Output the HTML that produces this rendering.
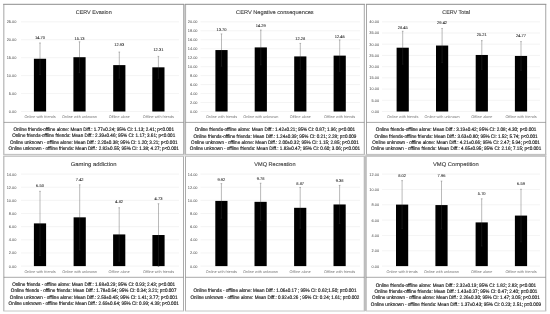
<!DOCTYPE html>
<html><head><meta charset="utf-8"><title>Figure</title>
<style>html,body{margin:0;padding:0;background:#fff}svg{display:block}text{text-rendering:geometricPrecision}</style></head>
<body>
<svg width="550" height="314" viewBox="0 0 550 314" font-family='"Liberation Sans", sans-serif'>
<rect width="550" height="314" fill="#fff"/>
<rect x="3.2" y="154.4" width="361.6" height="1.9" fill="#e6e6e6"/>
<rect x="365.3" y="154.4" width="181" height="1.9" fill="#c8c8c8"/>
<rect x="183.6" y="4.3" width="1.9" height="150.1" fill="#d0d0d0"/>
<rect x="364.4" y="156.3" width="1.7" height="154.7" fill="#c4c4c4"/>
<rect x="3.8" y="4.3" width="179.80" height="150.10" fill="#fff"/>
<path d="M3.8 4.3V154.4" stroke="#b4b4b4" stroke-width="1.2" fill="none"/>
<path d="M183.6 4.3V154.4" stroke="#b4b4b4" stroke-width="1.2" fill="none"/>
<path d="M3.20 4.3H184.20" stroke="#8c8c8c" stroke-width="1" fill="none"/>
<path d="M3.20 154.4H184.20" stroke="#bdbdbd" stroke-width="1" fill="none"/>
<path d="M3.8 122.4H183.6" stroke="#6e6e6e" stroke-width="0.6" fill="none"/>
<text x="93.70" y="14.10" font-size="5.4" fill="#383838" stroke="#383838" stroke-width="0.1" text-anchor="middle" textLength="36.0" lengthAdjust="spacingAndGlyphs">CERV Evasion</text>
<line x1="21.0" x2="179.0" y1="111.50" y2="111.50" stroke="#e6e6e6" stroke-width="0.45"/>
<text x="16.40" y="112.90" font-size="3.9" fill="#444" text-anchor="end">0.00</text>
<line x1="21.0" x2="179.0" y1="93.56" y2="93.56" stroke="#e6e6e6" stroke-width="0.45"/>
<text x="16.40" y="94.96" font-size="3.9" fill="#444" text-anchor="end">5.00</text>
<line x1="21.0" x2="179.0" y1="75.62" y2="75.62" stroke="#e6e6e6" stroke-width="0.45"/>
<text x="16.40" y="77.02" font-size="3.9" fill="#444" text-anchor="end">10.00</text>
<line x1="21.0" x2="179.0" y1="57.68" y2="57.68" stroke="#e6e6e6" stroke-width="0.45"/>
<text x="16.40" y="59.08" font-size="3.9" fill="#444" text-anchor="end">15.00</text>
<line x1="21.0" x2="179.0" y1="39.74" y2="39.74" stroke="#e6e6e6" stroke-width="0.45"/>
<text x="16.40" y="41.14" font-size="3.9" fill="#444" text-anchor="end">20.00</text>
<line x1="21.0" x2="179.0" y1="21.80" y2="21.80" stroke="#e6e6e6" stroke-width="0.45"/>
<text x="16.40" y="23.20" font-size="3.9" fill="#444" text-anchor="end">25.00</text>
<rect x="33.90" y="58.76" width="12.2" height="52.74" fill="#000"/>
<path d="M40.00 42.97V58.76M39.20 42.97H40.80" stroke="#757575" stroke-width="0.5" fill="none"/>
<path d="M40.00 58.76V74.54M39.20 74.54H40.80" stroke="#2c2c2c" stroke-width="0.45" fill="none"/>
<text x="40.00" y="39.05" font-size="4" fill="#2a2a2a" stroke="#2a2a2a" stroke-width="0.08" text-anchor="middle">14.70</text>
<text x="40.00" y="118.10" font-size="3.8" fill="#777" text-anchor="middle">Online with friends</text>
<rect x="73.40" y="57.21" width="12.2" height="54.29" fill="#000"/>
<path d="M79.50 41.79V57.21M78.70 41.79H80.30" stroke="#757575" stroke-width="0.5" fill="none"/>
<path d="M79.50 57.21V72.64M78.70 72.64H80.30" stroke="#2c2c2c" stroke-width="0.45" fill="none"/>
<text x="79.50" y="39.95" font-size="4" fill="#2a2a2a" stroke="#2a2a2a" stroke-width="0.08" text-anchor="middle">15.13</text>
<text x="79.50" y="118.10" font-size="3.8" fill="#777" text-anchor="middle">Online with unknown</text>
<rect x="113.20" y="65.11" width="12.2" height="46.39" fill="#000"/>
<path d="M119.30 52.05V65.11M118.50 52.05H120.10" stroke="#757575" stroke-width="0.5" fill="none"/>
<path d="M119.30 65.11V78.17M118.50 78.17H120.10" stroke="#2c2c2c" stroke-width="0.45" fill="none"/>
<text x="119.30" y="45.75" font-size="4" fill="#2a2a2a" stroke="#2a2a2a" stroke-width="0.08" text-anchor="middle">12.93</text>
<text x="119.30" y="118.10" font-size="3.8" fill="#777" text-anchor="middle">Offline alone</text>
<rect x="152.30" y="67.33" width="12.2" height="44.17" fill="#000"/>
<path d="M158.40 56.39V67.33M157.60 56.39H159.20" stroke="#757575" stroke-width="0.5" fill="none"/>
<path d="M158.40 67.33V78.28M157.60 78.28H159.20" stroke="#2c2c2c" stroke-width="0.45" fill="none"/>
<text x="158.40" y="50.55" font-size="4" fill="#2a2a2a" stroke="#2a2a2a" stroke-width="0.08" text-anchor="middle">12.31</text>
<text x="158.40" y="118.10" font-size="3.8" fill="#777" text-anchor="middle">Offline with friends</text>
<text transform="translate(93.70 131.05) scale(0.9 1)" font-size="5.1" fill="#111" stroke="#111" stroke-width="0.14" text-anchor="middle">Online friends-offline alone: Mean Diff.: 1.77±0.24; 95% CI: 1.13; 2.41; p&lt;0.001</text>
<text transform="translate(93.70 137.15) scale(0.9 1)" font-size="5.1" fill="#111" stroke="#111" stroke-width="0.14" text-anchor="middle">Online friends-offline friends: Mean Diff.: 2.39±0.46; 95% CI: 1.17; 3.61; p&lt;0.001</text>
<text transform="translate(93.70 143.55) scale(0.9 1)" font-size="5.1" fill="#111" stroke="#111" stroke-width="0.14" text-anchor="middle">Online unknown - offline alone: Mean Diff.: 2.20±0.38; 95% CI: 1.20; 3.21; p&lt;0.001</text>
<text transform="translate(93.70 149.85) scale(0.9 1)" font-size="5.1" fill="#111" stroke="#111" stroke-width="0.14" text-anchor="middle">Online unknown - offline friends: Mean Diff.: 2.82±0.55; 95% CI: 1.38; 4.27; p&lt;0.001</text>
<rect x="185.5" y="4.3" width="178.80" height="150.10" fill="#fff"/>
<path d="M185.5 4.3V154.4" stroke="#b4b4b4" stroke-width="1.2" fill="none"/>
<path d="M364.3 4.3V154.4" stroke="#8a8a8a" stroke-width="0.75" fill="none"/>
<path d="M184.90 4.3H364.90" stroke="#8c8c8c" stroke-width="1" fill="none"/>
<path d="M184.90 154.4H364.90" stroke="#bdbdbd" stroke-width="1" fill="none"/>
<path d="M185.5 122.4H364.3" stroke="#6e6e6e" stroke-width="0.6" fill="none"/>
<text x="274.90" y="14.10" font-size="5.4" fill="#383838" stroke="#383838" stroke-width="0.1" text-anchor="middle" textLength="77.6" lengthAdjust="spacingAndGlyphs">CERV Negative consequences</text>
<line x1="200.5" x2="360.0" y1="111.50" y2="111.50" stroke="#e6e6e6" stroke-width="0.45"/>
<text x="197.50" y="112.90" font-size="3.9" fill="#444" text-anchor="end">0.00</text>
<line x1="200.5" x2="360.0" y1="102.53" y2="102.53" stroke="#e6e6e6" stroke-width="0.45"/>
<text x="197.50" y="103.93" font-size="3.9" fill="#444" text-anchor="end">2.00</text>
<line x1="200.5" x2="360.0" y1="93.56" y2="93.56" stroke="#e6e6e6" stroke-width="0.45"/>
<text x="197.50" y="94.96" font-size="3.9" fill="#444" text-anchor="end">4.00</text>
<line x1="200.5" x2="360.0" y1="84.59" y2="84.59" stroke="#e6e6e6" stroke-width="0.45"/>
<text x="197.50" y="85.99" font-size="3.9" fill="#444" text-anchor="end">6.00</text>
<line x1="200.5" x2="360.0" y1="75.62" y2="75.62" stroke="#e6e6e6" stroke-width="0.45"/>
<text x="197.50" y="77.02" font-size="3.9" fill="#444" text-anchor="end">8.00</text>
<line x1="200.5" x2="360.0" y1="66.65" y2="66.65" stroke="#e6e6e6" stroke-width="0.45"/>
<text x="197.50" y="68.05" font-size="3.9" fill="#444" text-anchor="end">10.00</text>
<line x1="200.5" x2="360.0" y1="57.68" y2="57.68" stroke="#e6e6e6" stroke-width="0.45"/>
<text x="197.50" y="59.08" font-size="3.9" fill="#444" text-anchor="end">12.00</text>
<line x1="200.5" x2="360.0" y1="48.71" y2="48.71" stroke="#e6e6e6" stroke-width="0.45"/>
<text x="197.50" y="50.11" font-size="3.9" fill="#444" text-anchor="end">14.00</text>
<line x1="200.5" x2="360.0" y1="39.74" y2="39.74" stroke="#e6e6e6" stroke-width="0.45"/>
<text x="197.50" y="41.14" font-size="3.9" fill="#444" text-anchor="end">16.00</text>
<line x1="200.5" x2="360.0" y1="30.77" y2="30.77" stroke="#e6e6e6" stroke-width="0.45"/>
<text x="197.50" y="32.17" font-size="3.9" fill="#444" text-anchor="end">18.00</text>
<line x1="200.5" x2="360.0" y1="21.80" y2="21.80" stroke="#e6e6e6" stroke-width="0.45"/>
<text x="197.50" y="23.20" font-size="3.9" fill="#444" text-anchor="end">20.00</text>
<rect x="215.40" y="50.06" width="12.2" height="61.44" fill="#000"/>
<path d="M221.50 33.91V50.06M220.70 33.91H222.30" stroke="#757575" stroke-width="0.5" fill="none"/>
<path d="M221.50 50.06V66.20M220.70 66.20H222.30" stroke="#2c2c2c" stroke-width="0.45" fill="none"/>
<text x="221.50" y="30.95" font-size="4" fill="#2a2a2a" stroke="#2a2a2a" stroke-width="0.08" text-anchor="middle">13.70</text>
<text x="221.50" y="118.10" font-size="3.8" fill="#777" text-anchor="middle">Online with friends</text>
<rect x="254.70" y="47.41" width="12.2" height="64.09" fill="#000"/>
<path d="M260.80 30.01V47.41M260.00 30.01H261.60" stroke="#757575" stroke-width="0.5" fill="none"/>
<path d="M260.80 47.41V64.81M260.00 64.81H261.60" stroke="#2c2c2c" stroke-width="0.45" fill="none"/>
<text x="260.80" y="27.45" font-size="4" fill="#2a2a2a" stroke="#2a2a2a" stroke-width="0.08" text-anchor="middle">14.29</text>
<text x="260.80" y="118.10" font-size="3.8" fill="#777" text-anchor="middle">Online with unknown</text>
<rect x="294.20" y="56.42" width="12.2" height="55.08" fill="#000"/>
<path d="M300.30 43.42V56.42M299.50 43.42H301.10" stroke="#757575" stroke-width="0.5" fill="none"/>
<path d="M300.30 56.42V69.43M299.50 69.43H301.10" stroke="#2c2c2c" stroke-width="0.45" fill="none"/>
<text x="300.30" y="39.75" font-size="4" fill="#2a2a2a" stroke="#2a2a2a" stroke-width="0.08" text-anchor="middle">12.28</text>
<text x="300.30" y="118.10" font-size="3.8" fill="#777" text-anchor="middle">Offline alone</text>
<rect x="333.60" y="55.62" width="12.2" height="55.88" fill="#000"/>
<path d="M339.70 39.92V55.62M338.90 39.92H340.50" stroke="#757575" stroke-width="0.5" fill="none"/>
<path d="M339.70 55.62V71.31M338.90 71.31H340.50" stroke="#2c2c2c" stroke-width="0.45" fill="none"/>
<text x="339.70" y="37.65" font-size="4" fill="#2a2a2a" stroke="#2a2a2a" stroke-width="0.08" text-anchor="middle">12.46</text>
<text x="339.70" y="118.10" font-size="3.8" fill="#777" text-anchor="middle">Offline with friends</text>
<text transform="translate(274.90 131.05) scale(0.9 1)" font-size="5.1" fill="#111" stroke="#111" stroke-width="0.14" text-anchor="middle">Online friends-offline alone: Mean Diff.: 1.42±0.21; 95% CI: 0.87; 1.96; p&lt;0.001</text>
<text transform="translate(274.90 137.65) scale(0.9 1)" font-size="5.1" fill="#111" stroke="#111" stroke-width="0.14" text-anchor="middle">Online friends-offline friends: Mean Diff.: 1.24±0.39; 95% CI: 0.21; 2.28; p=0.009</text>
<text transform="translate(274.90 144.05) scale(0.9 1)" font-size="5.1" fill="#111" stroke="#111" stroke-width="0.14" text-anchor="middle">Online unknown - offline alone: Mean Diff.: 2.00±0.32; 95% CI: 1.15; 2.85; p&lt;0.001</text>
<text transform="translate(274.90 150.25) scale(0.9 1)" font-size="5.1" fill="#111" stroke="#111" stroke-width="0.14" text-anchor="middle">Online unknown - offline friends: Mean Diff.: 1.83±0.47; 95% CI: 0.60; 3.06; p&lt;0.001</text>
<rect x="366.5" y="4.3" width="179.20" height="150.10" fill="#fff"/>
<path d="M366.5 4.3V154.4" stroke="#8a8a8a" stroke-width="0.75" fill="none"/>
<path d="M545.7 4.3V154.4" stroke="#b4b4b4" stroke-width="1.2" fill="none"/>
<path d="M365.90 4.3H546.30" stroke="#8c8c8c" stroke-width="1" fill="none"/>
<path d="M365.90 154.4H546.30" stroke="#bdbdbd" stroke-width="1" fill="none"/>
<path d="M366.5 122.4H545.7" stroke="#6e6e6e" stroke-width="0.6" fill="none"/>
<text x="456.10" y="14.10" font-size="5.4" fill="#383838" stroke="#383838" stroke-width="0.1" text-anchor="middle" textLength="27.7" lengthAdjust="spacingAndGlyphs">CERV Total</text>
<line x1="382.0" x2="540.0" y1="111.50" y2="111.50" stroke="#e6e6e6" stroke-width="0.45"/>
<text x="379.10" y="112.90" font-size="3.9" fill="#444" text-anchor="end">0.00</text>
<line x1="382.0" x2="540.0" y1="100.29" y2="100.29" stroke="#e6e6e6" stroke-width="0.45"/>
<text x="379.10" y="101.69" font-size="3.9" fill="#444" text-anchor="end">5.00</text>
<line x1="382.0" x2="540.0" y1="89.08" y2="89.08" stroke="#e6e6e6" stroke-width="0.45"/>
<text x="379.10" y="90.48" font-size="3.9" fill="#444" text-anchor="end">10.00</text>
<line x1="382.0" x2="540.0" y1="77.86" y2="77.86" stroke="#e6e6e6" stroke-width="0.45"/>
<text x="379.10" y="79.26" font-size="3.9" fill="#444" text-anchor="end">15.00</text>
<line x1="382.0" x2="540.0" y1="66.65" y2="66.65" stroke="#e6e6e6" stroke-width="0.45"/>
<text x="379.10" y="68.05" font-size="3.9" fill="#444" text-anchor="end">20.00</text>
<line x1="382.0" x2="540.0" y1="55.44" y2="55.44" stroke="#e6e6e6" stroke-width="0.45"/>
<text x="379.10" y="56.84" font-size="3.9" fill="#444" text-anchor="end">25.00</text>
<line x1="382.0" x2="540.0" y1="44.22" y2="44.22" stroke="#e6e6e6" stroke-width="0.45"/>
<text x="379.10" y="45.62" font-size="3.9" fill="#444" text-anchor="end">30.00</text>
<line x1="382.0" x2="540.0" y1="33.01" y2="33.01" stroke="#e6e6e6" stroke-width="0.45"/>
<text x="379.10" y="34.41" font-size="3.9" fill="#444" text-anchor="end">35.00</text>
<line x1="382.0" x2="540.0" y1="21.80" y2="21.80" stroke="#e6e6e6" stroke-width="0.45"/>
<text x="379.10" y="23.20" font-size="3.9" fill="#444" text-anchor="end">40.00</text>
<rect x="396.60" y="47.70" width="12.2" height="63.80" fill="#000"/>
<path d="M402.70 31.22V47.70M401.90 31.22H403.50" stroke="#757575" stroke-width="0.5" fill="none"/>
<path d="M402.70 47.70V64.18M401.90 64.18H403.50" stroke="#2c2c2c" stroke-width="0.45" fill="none"/>
<text x="402.70" y="29.05" font-size="4" fill="#2a2a2a" stroke="#2a2a2a" stroke-width="0.08" text-anchor="middle">28.45</text>
<text x="402.70" y="118.10" font-size="3.8" fill="#777" text-anchor="middle">Online with friends</text>
<rect x="436.00" y="45.53" width="12.2" height="65.97" fill="#000"/>
<path d="M442.10 28.48V45.53M441.30 28.48H442.90" stroke="#757575" stroke-width="0.5" fill="none"/>
<path d="M442.10 45.53V62.57M441.30 62.57H442.90" stroke="#2c2c2c" stroke-width="0.45" fill="none"/>
<text x="442.10" y="24.45" font-size="4" fill="#2a2a2a" stroke="#2a2a2a" stroke-width="0.08" text-anchor="middle">29.42</text>
<text x="442.10" y="118.10" font-size="3.8" fill="#777" text-anchor="middle">Online with unknown</text>
<rect x="475.70" y="54.97" width="12.2" height="56.53" fill="#000"/>
<path d="M481.80 40.61V54.97M481.00 40.61H482.60" stroke="#757575" stroke-width="0.5" fill="none"/>
<path d="M481.80 54.97V69.32M481.00 69.32H482.60" stroke="#2c2c2c" stroke-width="0.45" fill="none"/>
<text x="481.80" y="36.25" font-size="4" fill="#2a2a2a" stroke="#2a2a2a" stroke-width="0.08" text-anchor="middle">25.21</text>
<text x="481.80" y="118.10" font-size="3.8" fill="#777" text-anchor="middle">Offline alone</text>
<rect x="514.90" y="55.95" width="12.2" height="55.55" fill="#000"/>
<path d="M521.00 41.60V55.95M520.20 41.60H521.80" stroke="#757575" stroke-width="0.5" fill="none"/>
<path d="M521.00 55.95V70.31M520.20 70.31H521.80" stroke="#2c2c2c" stroke-width="0.45" fill="none"/>
<text x="521.00" y="37.25" font-size="4" fill="#2a2a2a" stroke="#2a2a2a" stroke-width="0.08" text-anchor="middle">24.77</text>
<text x="521.00" y="118.10" font-size="3.8" fill="#777" text-anchor="middle">Offline with friends</text>
<text transform="translate(456.10 131.05) scale(0.9 1)" font-size="5.1" fill="#111" stroke="#111" stroke-width="0.14" text-anchor="middle">Online friends-offline alone: Mean Diff.: 3.19±0.42; 95% CI: 2.08; 4.30; p&lt;0.001</text>
<text transform="translate(456.10 137.75) scale(0.9 1)" font-size="5.1" fill="#111" stroke="#111" stroke-width="0.14" text-anchor="middle">Online friends-offline friends: Mean Diff.: 3.63±0.80; 95% CI: 1.52; 5.74; p&lt;0.001</text>
<text transform="translate(456.10 144.35) scale(0.9 1)" font-size="5.1" fill="#111" stroke="#111" stroke-width="0.14" text-anchor="middle">Online unknown - offline alone: Mean Diff.: 4.21±0.66; 95% CI: 2.47; 5.94; p&lt;0.001</text>
<text transform="translate(456.10 150.35) scale(0.9 1)" font-size="5.1" fill="#111" stroke="#111" stroke-width="0.14" text-anchor="middle">Online unknown - offline friends: Mean Diff.: 4.65±0.95; 95% CI: 2.16; 7.15; p&lt;0.001</text>
<rect x="3.8" y="156.3" width="179.70" height="154.70" fill="#fff"/>
<path d="M3.8 156.3V311.0" stroke="#b4b4b4" stroke-width="1.2" fill="none"/>
<path d="M183.5 156.3V311.0" stroke="#969696" stroke-width="0.8" fill="none"/>
<path d="M3.20 156.3H184.10" stroke="#bdbdbd" stroke-width="1" fill="none"/>
<path d="M3.20 311.0H184.10" stroke="#c6c6c6" stroke-width="1" fill="none"/>
<path d="M3.8 277.3H183.5" stroke="#6e6e6e" stroke-width="0.6" fill="none"/>
<text x="93.65" y="165.80" font-size="5.4" fill="#383838" stroke="#383838" stroke-width="0.1" text-anchor="middle" textLength="45.8" lengthAdjust="spacingAndGlyphs">Gaming addiction</text>
<line x1="21.0" x2="179.0" y1="266.10" y2="266.10" stroke="#e6e6e6" stroke-width="0.45"/>
<text x="16.40" y="267.50" font-size="3.9" fill="#444" text-anchor="end">0.00</text>
<line x1="21.0" x2="179.0" y1="252.96" y2="252.96" stroke="#e6e6e6" stroke-width="0.45"/>
<text x="16.40" y="254.36" font-size="3.9" fill="#444" text-anchor="end">2.00</text>
<line x1="21.0" x2="179.0" y1="239.81" y2="239.81" stroke="#e6e6e6" stroke-width="0.45"/>
<text x="16.40" y="241.21" font-size="3.9" fill="#444" text-anchor="end">4.00</text>
<line x1="21.0" x2="179.0" y1="226.67" y2="226.67" stroke="#e6e6e6" stroke-width="0.45"/>
<text x="16.40" y="228.07" font-size="3.9" fill="#444" text-anchor="end">6.00</text>
<line x1="21.0" x2="179.0" y1="213.53" y2="213.53" stroke="#e6e6e6" stroke-width="0.45"/>
<text x="16.40" y="214.93" font-size="3.9" fill="#444" text-anchor="end">8.00</text>
<line x1="21.0" x2="179.0" y1="200.39" y2="200.39" stroke="#e6e6e6" stroke-width="0.45"/>
<text x="16.40" y="201.79" font-size="3.9" fill="#444" text-anchor="end">10.00</text>
<line x1="21.0" x2="179.0" y1="187.24" y2="187.24" stroke="#e6e6e6" stroke-width="0.45"/>
<text x="16.40" y="188.64" font-size="3.9" fill="#444" text-anchor="end">12.00</text>
<line x1="21.0" x2="179.0" y1="174.10" y2="174.10" stroke="#e6e6e6" stroke-width="0.45"/>
<text x="16.40" y="175.50" font-size="3.9" fill="#444" text-anchor="end">14.00</text>
<rect x="33.90" y="223.39" width="12.2" height="42.71" fill="#000"/>
<path d="M40.00 191.32V223.39M39.20 191.32H40.80" stroke="#757575" stroke-width="0.5" fill="none"/>
<path d="M40.00 223.39V255.45M39.20 255.45H40.80" stroke="#2c2c2c" stroke-width="0.45" fill="none"/>
<text x="40.00" y="186.85" font-size="4" fill="#2a2a2a" stroke="#2a2a2a" stroke-width="0.08" text-anchor="middle">6.50</text>
<text x="40.00" y="273.10" font-size="3.8" fill="#777" text-anchor="middle">Online with friends</text>
<rect x="73.60" y="217.34" width="12.2" height="48.76" fill="#000"/>
<path d="M79.70 184.81V217.34M78.90 184.81H80.50" stroke="#757575" stroke-width="0.5" fill="none"/>
<path d="M79.70 217.34V249.87M78.90 249.87H80.50" stroke="#2c2c2c" stroke-width="0.45" fill="none"/>
<text x="79.70" y="181.35" font-size="4" fill="#2a2a2a" stroke="#2a2a2a" stroke-width="0.08" text-anchor="middle">7.42</text>
<text x="79.70" y="273.10" font-size="3.8" fill="#777" text-anchor="middle">Online with unknown</text>
<rect x="113.10" y="234.43" width="12.2" height="31.67" fill="#000"/>
<path d="M119.20 207.75V234.43M118.40 207.75H120.00" stroke="#757575" stroke-width="0.5" fill="none"/>
<path d="M119.20 234.43V261.11M118.40 261.11H120.00" stroke="#2c2c2c" stroke-width="0.45" fill="none"/>
<text x="119.20" y="203.45" font-size="4" fill="#2a2a2a" stroke="#2a2a2a" stroke-width="0.08" text-anchor="middle">4.82</text>
<text x="119.20" y="273.10" font-size="3.8" fill="#777" text-anchor="middle">Offline alone</text>
<rect x="152.40" y="235.02" width="12.2" height="31.08" fill="#000"/>
<path d="M158.50 203.74V235.02M157.70 203.74H159.30" stroke="#757575" stroke-width="0.5" fill="none"/>
<path d="M158.50 235.02V266.30M157.70 266.30H159.30" stroke="#2c2c2c" stroke-width="0.45" fill="none"/>
<text x="158.50" y="199.95" font-size="4" fill="#2a2a2a" stroke="#2a2a2a" stroke-width="0.08" text-anchor="middle">4.73</text>
<text x="158.50" y="273.10" font-size="3.8" fill="#777" text-anchor="middle">Offline with friends</text>
<text transform="translate(93.65 286.15) scale(0.9 1)" font-size="5.1" fill="#111" stroke="#111" stroke-width="0.14" text-anchor="middle">Online friends - offline alone: Mean Diff.: 1.68±0.29; 95% CI: 0.93; 2.43; p&lt;0.001</text>
<text transform="translate(93.65 292.45) scale(0.9 1)" font-size="5.1" fill="#111" stroke="#111" stroke-width="0.14" text-anchor="middle">Online friends - offline friends: Mean Diff.: 1.78±0.54; 95% CI: 0.34; 3.21; p=0.007</text>
<text transform="translate(93.65 298.85) scale(0.9 1)" font-size="5.1" fill="#111" stroke="#111" stroke-width="0.14" text-anchor="middle">Online unknown - offline alone: Mean Diff.: 2.59±0.45; 95% CI: 1.41; 3.77; p&lt;0.001</text>
<text transform="translate(93.65 305.35) scale(0.9 1)" font-size="5.1" fill="#111" stroke="#111" stroke-width="0.14" text-anchor="middle">Online unknown - offline friends: Mean Diff.: 2.69±0.64; 95% CI: 0.99; 4.39; p&lt;0.001</text>
<rect x="185.5" y="156.3" width="178.90" height="154.70" fill="#fff"/>
<path d="M185.5 156.3V311.0" stroke="#969696" stroke-width="0.8" fill="none"/>
<path d="M364.4 156.3V311.0" stroke="#bcbcbc" stroke-width="1.4" fill="none"/>
<path d="M184.90 156.3H365.00" stroke="#bdbdbd" stroke-width="1" fill="none"/>
<path d="M184.90 311.0H365.00" stroke="#c6c6c6" stroke-width="1" fill="none"/>
<path d="M185.5 277.3H364.4" stroke="#6e6e6e" stroke-width="0.6" fill="none"/>
<text x="274.95" y="165.80" font-size="5.4" fill="#383838" stroke="#383838" stroke-width="0.1" text-anchor="middle" textLength="41.3" lengthAdjust="spacingAndGlyphs">VMQ Recreation</text>
<line x1="200.5" x2="360.0" y1="266.10" y2="266.10" stroke="#e6e6e6" stroke-width="0.45"/>
<text x="197.50" y="267.50" font-size="3.9" fill="#444" text-anchor="end">0.00</text>
<line x1="200.5" x2="360.0" y1="252.96" y2="252.96" stroke="#e6e6e6" stroke-width="0.45"/>
<text x="197.50" y="254.36" font-size="3.9" fill="#444" text-anchor="end">2.00</text>
<line x1="200.5" x2="360.0" y1="239.81" y2="239.81" stroke="#e6e6e6" stroke-width="0.45"/>
<text x="197.50" y="241.21" font-size="3.9" fill="#444" text-anchor="end">4.00</text>
<line x1="200.5" x2="360.0" y1="226.67" y2="226.67" stroke="#e6e6e6" stroke-width="0.45"/>
<text x="197.50" y="228.07" font-size="3.9" fill="#444" text-anchor="end">6.00</text>
<line x1="200.5" x2="360.0" y1="213.53" y2="213.53" stroke="#e6e6e6" stroke-width="0.45"/>
<text x="197.50" y="214.93" font-size="3.9" fill="#444" text-anchor="end">8.00</text>
<line x1="200.5" x2="360.0" y1="200.39" y2="200.39" stroke="#e6e6e6" stroke-width="0.45"/>
<text x="197.50" y="201.79" font-size="3.9" fill="#444" text-anchor="end">10.00</text>
<line x1="200.5" x2="360.0" y1="187.24" y2="187.24" stroke="#e6e6e6" stroke-width="0.45"/>
<text x="197.50" y="188.64" font-size="3.9" fill="#444" text-anchor="end">12.00</text>
<line x1="200.5" x2="360.0" y1="174.10" y2="174.10" stroke="#e6e6e6" stroke-width="0.45"/>
<text x="197.50" y="175.50" font-size="3.9" fill="#444" text-anchor="end">14.00</text>
<rect x="215.30" y="200.91" width="12.2" height="65.19" fill="#000"/>
<path d="M221.40 183.63V200.91M220.60 183.63H222.20" stroke="#757575" stroke-width="0.5" fill="none"/>
<path d="M221.40 200.91V218.19M220.60 218.19H222.20" stroke="#2c2c2c" stroke-width="0.45" fill="none"/>
<text x="221.40" y="180.85" font-size="4" fill="#2a2a2a" stroke="#2a2a2a" stroke-width="0.08" text-anchor="middle">9.92</text>
<text x="221.40" y="273.10" font-size="3.8" fill="#777" text-anchor="middle">Online with friends</text>
<rect x="254.50" y="201.83" width="12.2" height="64.27" fill="#000"/>
<path d="M260.60 183.23V201.83M259.80 183.23H261.40" stroke="#757575" stroke-width="0.5" fill="none"/>
<path d="M260.60 201.83V220.43M259.80 220.43H261.40" stroke="#2c2c2c" stroke-width="0.45" fill="none"/>
<text x="260.60" y="180.25" font-size="4" fill="#2a2a2a" stroke="#2a2a2a" stroke-width="0.08" text-anchor="middle">9.78</text>
<text x="260.60" y="273.10" font-size="3.8" fill="#777" text-anchor="middle">Online with unknown</text>
<rect x="294.10" y="207.81" width="12.2" height="58.29" fill="#000"/>
<path d="M300.20 187.44V207.81M299.40 187.44H301.00" stroke="#757575" stroke-width="0.5" fill="none"/>
<path d="M300.20 207.81V228.18M299.40 228.18H301.00" stroke="#2c2c2c" stroke-width="0.45" fill="none"/>
<text x="300.20" y="184.65" font-size="4" fill="#2a2a2a" stroke="#2a2a2a" stroke-width="0.08" text-anchor="middle">8.87</text>
<text x="300.20" y="273.10" font-size="3.8" fill="#777" text-anchor="middle">Offline alone</text>
<rect x="333.50" y="204.46" width="12.2" height="61.64" fill="#000"/>
<path d="M339.60 185.40V204.46M338.80 185.40H340.40" stroke="#757575" stroke-width="0.5" fill="none"/>
<path d="M339.60 204.46V223.52M338.80 223.52H340.40" stroke="#2c2c2c" stroke-width="0.45" fill="none"/>
<text x="339.60" y="181.75" font-size="4" fill="#2a2a2a" stroke="#2a2a2a" stroke-width="0.08" text-anchor="middle">9.38</text>
<text x="339.60" y="273.10" font-size="3.8" fill="#777" text-anchor="middle">Offline with friends</text>
<text transform="translate(274.95 292.15) scale(0.9 1)" font-size="5.1" fill="#111" stroke="#111" stroke-width="0.14" text-anchor="middle">Online friends - offline alone: Mean Diff.: 1.06±0.17 ; 95% CI: 0.62;1.50; p=0.001</text>
<text transform="translate(274.95 298.75) scale(0.9 1)" font-size="5.1" fill="#111" stroke="#111" stroke-width="0.14" text-anchor="middle">Online unknown - offline alone: Mean Diff.: 0.92±0.26 ; 95% CI: 0.24; 1.61; p=0.002</text>
<rect x="366.1" y="156.3" width="179.60" height="154.70" fill="#fff"/>
<path d="M366.1 156.3V311.0" stroke="#bcbcbc" stroke-width="1.4" fill="none"/>
<path d="M545.7 156.3V311.0" stroke="#b4b4b4" stroke-width="1.2" fill="none"/>
<path d="M365.50 156.3H546.30" stroke="#bdbdbd" stroke-width="1" fill="none"/>
<path d="M365.50 311.0H546.30" stroke="#c6c6c6" stroke-width="1" fill="none"/>
<path d="M366.1 277.3H545.7" stroke="#6e6e6e" stroke-width="0.6" fill="none"/>
<text x="455.90" y="165.80" font-size="5.4" fill="#383838" stroke="#383838" stroke-width="0.1" text-anchor="middle" textLength="45.8" lengthAdjust="spacingAndGlyphs">VMQ Competition</text>
<line x1="382.0" x2="540.0" y1="266.10" y2="266.10" stroke="#e6e6e6" stroke-width="0.45"/>
<text x="379.10" y="267.50" font-size="3.9" fill="#444" text-anchor="end">0.00</text>
<line x1="382.0" x2="540.0" y1="250.77" y2="250.77" stroke="#e6e6e6" stroke-width="0.45"/>
<text x="379.10" y="252.17" font-size="3.9" fill="#444" text-anchor="end">2.00</text>
<line x1="382.0" x2="540.0" y1="235.43" y2="235.43" stroke="#e6e6e6" stroke-width="0.45"/>
<text x="379.10" y="236.83" font-size="3.9" fill="#444" text-anchor="end">4.00</text>
<line x1="382.0" x2="540.0" y1="220.10" y2="220.10" stroke="#e6e6e6" stroke-width="0.45"/>
<text x="379.10" y="221.50" font-size="3.9" fill="#444" text-anchor="end">6.00</text>
<line x1="382.0" x2="540.0" y1="204.77" y2="204.77" stroke="#e6e6e6" stroke-width="0.45"/>
<text x="379.10" y="206.17" font-size="3.9" fill="#444" text-anchor="end">8.00</text>
<line x1="382.0" x2="540.0" y1="189.43" y2="189.43" stroke="#e6e6e6" stroke-width="0.45"/>
<text x="379.10" y="190.83" font-size="3.9" fill="#444" text-anchor="end">10.00</text>
<line x1="382.0" x2="540.0" y1="174.10" y2="174.10" stroke="#e6e6e6" stroke-width="0.45"/>
<text x="379.10" y="175.50" font-size="3.9" fill="#444" text-anchor="end">12.00</text>
<rect x="396.00" y="204.61" width="12.2" height="61.49" fill="#000"/>
<path d="M402.10 180.62V204.61M401.30 180.62H402.90" stroke="#757575" stroke-width="0.5" fill="none"/>
<path d="M402.10 204.61V228.61M401.30 228.61H402.90" stroke="#2c2c2c" stroke-width="0.45" fill="none"/>
<text x="402.10" y="176.95" font-size="4" fill="#2a2a2a" stroke="#2a2a2a" stroke-width="0.08" text-anchor="middle">8.02</text>
<text x="402.10" y="273.10" font-size="3.8" fill="#777" text-anchor="middle">Online with friends</text>
<rect x="435.40" y="205.07" width="12.2" height="61.03" fill="#000"/>
<path d="M441.50 181.08V205.07M440.70 181.08H442.30" stroke="#757575" stroke-width="0.5" fill="none"/>
<path d="M441.50 205.07V229.07M440.70 229.07H442.30" stroke="#2c2c2c" stroke-width="0.45" fill="none"/>
<text x="441.50" y="177.45" font-size="4" fill="#2a2a2a" stroke="#2a2a2a" stroke-width="0.08" text-anchor="middle">7.96</text>
<text x="441.50" y="273.10" font-size="3.8" fill="#777" text-anchor="middle">Online with unknown</text>
<rect x="475.60" y="222.40" width="12.2" height="43.70" fill="#000"/>
<path d="M481.70 198.79V222.40M480.90 198.79H482.50" stroke="#757575" stroke-width="0.5" fill="none"/>
<path d="M481.70 222.40V246.01M480.90 246.01H482.50" stroke="#2c2c2c" stroke-width="0.45" fill="none"/>
<text x="481.70" y="195.15" font-size="4" fill="#2a2a2a" stroke="#2a2a2a" stroke-width="0.08" text-anchor="middle">5.70</text>
<text x="481.70" y="273.10" font-size="3.8" fill="#777" text-anchor="middle">Offline alone</text>
<rect x="514.90" y="215.58" width="12.2" height="50.52" fill="#000"/>
<path d="M521.00 189.28V215.58M520.20 189.28H521.80" stroke="#757575" stroke-width="0.5" fill="none"/>
<path d="M521.00 215.58V241.87M520.20 241.87H521.80" stroke="#2c2c2c" stroke-width="0.45" fill="none"/>
<text x="521.00" y="185.15" font-size="4" fill="#2a2a2a" stroke="#2a2a2a" stroke-width="0.08" text-anchor="middle">6.59</text>
<text x="521.00" y="273.10" font-size="3.8" fill="#777" text-anchor="middle">Offline with friends</text>
<text transform="translate(455.90 286.75) scale(0.9 1)" font-size="5.1" fill="#111" stroke="#111" stroke-width="0.14" text-anchor="middle">Online friends-offline alone: Mean Diff.: 2.32±0.19; 95% CI: 1.82; 2.83; p&lt;0.001</text>
<text transform="translate(455.90 292.85) scale(0.9 1)" font-size="5.1" fill="#111" stroke="#111" stroke-width="0.14" text-anchor="middle">Online friends-offline friends: Mean Diff.: 1.43±0.37; 95% CI: 0.47; 2.40; p=0.001</text>
<text transform="translate(455.90 299.45) scale(0.9 1)" font-size="5.1" fill="#111" stroke="#111" stroke-width="0.14" text-anchor="middle">Online unknown - offline alone: Mean Diff.: 2.26±0.30; 95% CI: 1.47; 3.05; p&lt;0.001</text>
<text transform="translate(455.90 305.55) scale(0.9 1)" font-size="5.1" fill="#111" stroke="#111" stroke-width="0.14" text-anchor="middle">Online unknown - offline friends: Mean Diff.: 1.37±0.43; 95% CI: 0.23; 2.51; p=0.009</text>
</svg>
</body></html>
